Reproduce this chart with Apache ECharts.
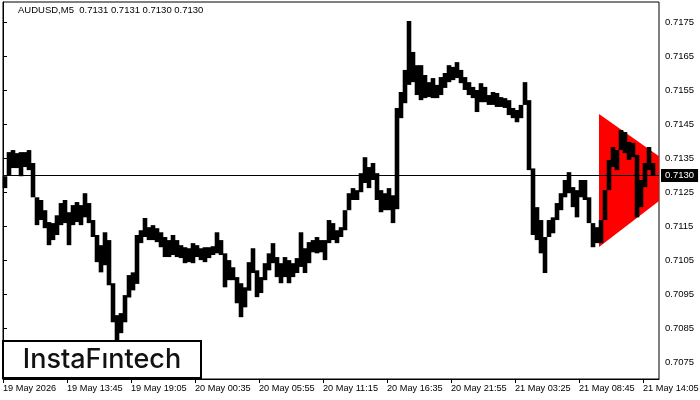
<!DOCTYPE html>
<html>
<head>
<meta charset="utf-8">
<script src="https://cdn.jsdelivr.net/npm/echarts@6/dist/echarts.min.js"></script>
<style>html,body{margin:0;padding:0;background:#fff}#c{width:700px;height:400px}</style>
</head>
<body>
<div id="c"></div>
<script>
// x-axis tick labels (one every 16 bins)
var tickLabels = ['19 May 2026','19 May 13:45','19 May 19:05','20 May 00:35','20 May 05:55','20 May 11:15','20 May 16:35','20 May 21:55','21 May 03:25','21 May 08:45','21 May 14:05'];
// price-axis tick labels
var priceTicks = [0.7075,0.7085,0.7095,0.7105,0.7115,0.7125,0.7135,0.7145,0.7155,0.7165,0.7175];
// bin highs
var highs = [
0.71297,0.71368,0.71374,0.71365,0.71368,0.71368,0.71374,0.71336,
0.71235,0.71227,0.71197,0.71162,0.71159,0.71182,0.71218,0.71227,
0.71191,0.71212,0.71221,0.71212,0.71247,0.71218,0.71168,0.71124,
0.71094,0.71132,0.71109,0.70982,0.70888,0.70894,0.70947,0.71006,
0.71014,0.71124,0.71138,0.71174,0.71147,0.71153,0.71144,0.71132,
0.71118,0.71109,0.71124,0.71109,0.71094,0.71088,0.71085,0.71100,
0.71094,0.71085,0.71088,0.71088,0.71091,0.71132,0.71109,0.71070,
0.71050,0.71029,0.71000,0.70982,0.70970,0.71044,0.71085,0.71020,
0.71000,0.71041,0.71070,0.71100,0.71059,0.71041,0.71059,0.71050,
0.71041,0.71056,0.71132,0.71085,0.71103,0.71109,0.71118,0.71109,
0.71109,0.71168,0.71159,0.71138,0.71147,0.71197,0.71247,0.71262,
0.71256,0.71306,0.71353,0.71324,0.71336,0.71306,0.71256,0.71247,
0.71262,0.71241,0.71498,0.71545,0.71610,0.71754,0.71663,0.71624,
0.71624,0.71595,0.71574,0.71586,0.71566,0.71589,0.71601,0.71624,
0.71619,0.71633,0.71610,0.71589,0.71574,0.71560,0.71551,0.71571,
0.71560,0.71536,0.71545,0.71542,0.71530,0.71527,0.71521,0.71498,
0.71492,0.71507,0.71574,0.71521,0.71320,0.71206,0.71168,0.71118,
0.71168,0.71176,0.71218,0.71247,0.71286,0.71309,0.71265,0.71256,
0.71286,0.71286,0.71235,0.71159,0.71147,0.71168,0.71256,0.71345,
0.71383,0.71374,0.71433,0.71427,0.71398,0.71395,0.71360,0.71286,
0.71336,0.71383,0.71336
];
// bin lows
var lows = [
0.71262,0.71300,0.71321,0.71321,0.71297,0.71324,0.71315,0.71235,
0.71153,0.71168,0.71144,0.71094,0.71109,0.71124,0.71153,0.71159,
0.71094,0.71153,0.71162,0.71153,0.71176,0.71159,0.71118,0.71044,
0.71014,0.71035,0.70976,0.70867,0.70811,0.70835,0.70867,0.70940,
0.70961,0.70980,0.71100,0.71118,0.71109,0.71109,0.71103,0.71088,
0.71059,0.71059,0.71065,0.71059,0.71056,0.71041,0.71044,0.71041,
0.71059,0.71050,0.71044,0.71056,0.71065,0.71070,0.71065,0.70970,
0.70991,0.70991,0.70923,0.70882,0.70911,0.70960,0.71012,0.70941,
0.70953,0.70991,0.71020,0.71041,0.71000,0.70982,0.71000,0.70982,
0.71000,0.71012,0.71030,0.71012,0.71041,0.71073,0.71070,0.71073,
0.71050,0.71100,0.71109,0.71100,0.71118,0.71138,0.71197,0.71227,
0.71227,0.71250,0.71277,0.71262,0.71286,0.71227,0.71191,0.71197,
0.71197,0.71159,0.71200,0.71468,0.71512,0.71566,0.71574,0.71536,
0.71521,0.71527,0.71530,0.71527,0.71527,0.71536,0.71557,0.71574,
0.71580,0.71586,0.71571,0.71551,0.71536,0.71527,0.71486,0.71515,
0.71515,0.71507,0.71507,0.71501,0.71501,0.71498,0.71477,0.71468,
0.71456,0.71468,0.71507,0.71315,0.71124,0.71109,0.71070,0.71012,
0.71118,0.71129,0.71168,0.71197,0.71235,0.71247,0.71206,0.71176,
0.71235,0.71227,0.71159,0.71088,0.71100,0.71100,0.71168,0.71256,
0.71324,0.71315,0.71374,0.71365,0.71345,0.71353,0.71176,0.71206,
0.71265,0.71315,0.71300
];
var binCount = 164;
var binsPerTick = 16;
var currentPrice = 0.7130;
// triangle pattern: start bin, end bin, upper line values, lower line values
var triBins = [149, 163];
var triUpper = [0.71480, 0.71356];
var triLower = [0.71089, 0.71224];

var categories = [];
for (var i = 0; i < binCount; i++) categories.push(String(i));
var tickBins = tickLabels.map(function (t, k) { return k * binsPerTick; });
var priceData = highs.map(function (h, i) { return [i, lows[i], h]; });

var FONT = 'Liberation Sans';
var chart = echarts.init(document.getElementById('c'), null, {renderer: 'canvas'});
chart.setOption({
  animation: false,
  backgroundColor: '#fff',
  title: {
    text: 'AUDUSD,M5  0.7131 0.7131 0.7130 0.7130',
    left: 18, top: 5, padding: 0,
    textStyle: {fontFamily: FONT, fontSize: 9.5, fontWeight: 'normal', color: '#000'}
  },
  grid: {left: 3, right: 41, top: 2, bottom: 21, show: true, borderColor: '#000', borderWidth: 1, backgroundColor: '#fff',
    containLabel: false, outerBoundsMode: 'none'},
  xAxis: [
    {type: 'category', data: categories, boundaryGap: true, show: false},
    {
      type: 'value', min: 0, max: binCount, position: 'bottom',
      axisLine: {show: true, onZero: false, lineStyle: {color: '#000', width: 1}},
      axisTick: {show: true, length: 4, customValues: tickBins, lineStyle: {color: '#000'}},
      axisLabel: {customValues: tickBins, align: 'left', margin: 5, color: '#000', fontFamily: FONT, fontSize: 9.2,
        formatter: function (v) { return tickLabels[Math.round(v / binsPerTick)]; }},
      splitLine: {show: false}
    }
  ],
  yAxis: {
    type: 'value', position: 'right', min: 0.7070, max: 0.7181, scale: true,
    axisLine: {show: true, lineStyle: {color: '#000'}},
    axisTick: {show: true, length: 4, customValues: priceTicks, lineStyle: {color: '#000'}},
    axisLabel: {customValues: priceTicks, margin: 6, color: '#000', fontFamily: FONT, fontSize: 9.5,
      formatter: function (v) { return v.toFixed(4); }},
    splitLine: {show: false}
  },
  series: [
    {
      type: 'custom', z: 2, silent: true, xAxisIndex: 0,
      data: [[triBins[0], triBins[1], triUpper[0], triUpper[1], triLower[0], triLower[1]]],
      encode: {x: [0, 1], y: [2, 3, 4, 5]},
      renderItem: function (params, api) {
        var w = api.size([1, 0])[0];
        var a = api.coord([api.value(0), api.value(2)]);
        var b = api.coord([api.value(1), api.value(3)]);
        var c = api.coord([api.value(1), api.value(5)]);
        var d = api.coord([api.value(0), api.value(4)]);
        return {type: 'polygon', shape: {points: [[a[0] - w / 2, a[1]], [b[0] + w / 2, b[1]], [c[0] + w / 2, c[1]], [d[0] - w / 2, d[1]]]},
          style: {fill: '#ff0000'}};
      }
    },
    {
      type: 'custom', z: 3, silent: true, xAxisIndex: 0,
      data: [[0, binCount - 1, currentPrice]],
      encode: {x: [0, 1], y: 2},
      renderItem: function (params, api) {
        var w = api.size([1, 0])[0];
        var p0 = api.coord([api.value(0), api.value(2)]);
        var p1 = api.coord([api.value(1), api.value(2)]);
        var y = Math.round(p0[1]) + 0.5;
        return {type: 'group', children: [
          {type: 'line', shape: {x1: p0[0] - w / 2, y1: y, x2: p1[0] + w / 2, y2: y}, style: {stroke: '#000', lineWidth: 1}},
          {type: 'text', x: p1[0] + w / 2 + 2, y: y, style: {text: api.value(2).toFixed(4), fill: '#fff', backgroundColor: '#000',
            padding: [2, 4, 1, 4], font: '9.5px ' + FONT, verticalAlign: 'middle', align: 'left'}}
        ]};
      }
    },
    {
      type: 'custom', z: 4, silent: true, xAxisIndex: 0,
      data: priceData,
      encode: {x: 0, y: [1, 2]},
      renderItem: function (params, api) {
        var w = api.size([1, 0])[0];
        var lo = api.coord([api.value(0), api.value(1)]);
        var hi = api.coord([api.value(0), api.value(2)]);
        return {type: 'rect', shape: {x: lo[0] - w / 2 - 0.3, y: hi[1], width: w + 0.6, height: Math.max(1, lo[1] - hi[1])}, style: {fill: '#000'}};
      }
    }
  ],
  graphic: [
    {type: 'rect', z: 100, shape: {x: 3, y: 341, width: 198, height: 37}, style: {fill: '#fff', stroke: '#000', lineWidth: 2}},
    {type: 'text', z: 101, x: 102, y: 360, style: {text: 'InstaF\u0131ntech', font: '500 27px Inter', fill: '#111', align: 'center', verticalAlign: 'middle'}}
  ]
});
</script>
</body>
</html>
